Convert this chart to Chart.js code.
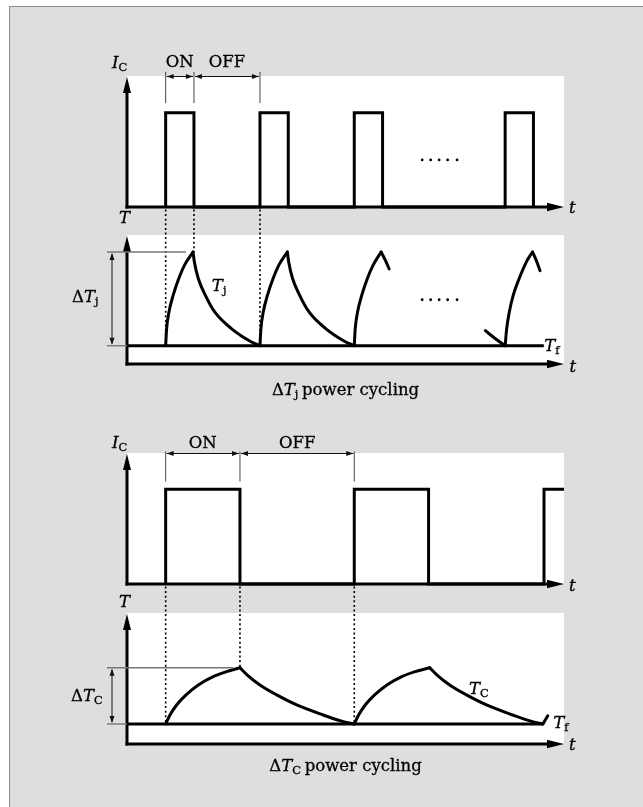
<!DOCTYPE html>
<html><head><meta charset="utf-8">
<script src="https://cdn.jsdelivr.net/npm/chart.js@4.4.1/dist/chart.umd.min.js"></script>
<style>
html,body{margin:0;padding:0;background:#fff;}
#wrap{position:relative;width:643px;height:807px;overflow:hidden;}
#bg{position:absolute;left:9px;top:6px;right:0;bottom:0;background:#dedede;border-top:1px solid #8a8a8a;border-left:1px solid #8a8a8a;}
canvas{position:absolute;left:0;top:0;}
</style></head><body>
<div id="wrap"><div id="bg"></div>
<canvas id="c1" width="643" height="807"></canvas>
<canvas id="c2" width="643" height="807"></canvas>
<canvas id="c3" width="643" height="807"></canvas>
<canvas id="c4" width="643" height="807"></canvas>
</div>
<script>
// ---------- DATA ----------
// Top half (ΔTj power cycling); time in pulse periods
const topPulseStart = [0, 1, 2, 3.6];
const topPulseEnd   = [0.3, 1.3, 2.3, 3.9];
const pulseLevel = 1;
const tfLevel = 40;
const tjPeak = 140;
const tjRise1  = [[0,40],[0.01,58],[0.035,76],[0.08,94],[0.14,112],[0.2,126],[0.29,140]];
const tjDecay1 = [[0.29,140],[0.305,129],[0.345,112],[0.42,94],[0.52,76],[0.7,58],[0.91,44],[1,40]];
const tjRise2  = [[1,40],[1.01,58],[1.035,76],[1.08,94],[1.14,112],[1.2,126],[1.29,140]];
const tjDecay2 = [[1.29,140],[1.305,129],[1.345,112],[1.42,94],[1.52,76],[1.7,58],[1.91,44],[2,40]];
const tjRise3  = [[2,40],[2.01,58],[2.035,76],[2.08,94],[2.14,112],[2.2,126],[2.285,140]];
const tjDecay3 = [[2.285,140],[2.33,131],[2.37,122]];
const tjTail4  = [[3.39,56],[3.49,48],[3.6,40]];
const tjRise4  = [[3.6,40],[3.616,58],[3.644,76],[3.686,94],[3.75,112],[3.828,130],[3.89,140]];
const tjDecay4 = [[3.89,140],[3.93,131],[3.97,120]];
const tfLineTop = [[-0.41,40],[4.01,40]];
const dotsX = [2.72, 2.81, 2.9, 2.99, 3.09];
const dotsI = [0.5, 0.5, 0.5, 0.5, 0.5];
const dotsTj = [89, 89, 89, 89, 89];

// Bottom half (ΔTC power cycling)
const botPulseStart = [0, 1, 2.006];
const botPulseEnd   = [0.394, 1.394, 2.3];
const tcPeak = 100;
const tcRise1  = [[0,40],[0.023,49.6],[0.058,60.3],[0.108,71],[0.173,81.6],[0.252,90.5],[0.323,95.8],[0.394,100]];
const tcDecay1 = [[0.394,100],[0.433,92.2],[0.5,81.6],[0.589,71],[0.695,60.3],[0.836,49.6],[0.942,42.5],[1,40]];
const tcRise2  = [[1,40],[1.023,49.6],[1.058,60.3],[1.108,71],[1.173,81.6],[1.252,90.5],[1.323,95.8],[1.4,100]];
const tcDecay2 = [[1.4,100],[1.439,92.2],[1.506,81.6],[1.595,71],[1.701,60.3],[1.84,49.6],[1.945,42.5],[2,40]];
const tcTick3  = [[2,40],[2.026,48.8]];
const tfLineBot = [[-0.205,40],[2,40]];

// ---------- HELPERS ----------
const SERIF = '"DejaVu Serif", "Liberation Serif", serif';
const MAIN = 16.5, SUB = 11.5;

function rich(ctx, parts, x, y, align) {
  const fonts = {r:`${MAIN}px ${SERIF}`, i:`italic ${MAIN}px ${SERIF}`, s:`${SUB}px ${SERIF}`};
  let w = 0;
  const ws = parts.map(([t,k]) => { ctx.font = fonts[k]; const m = ctx.measureText(t).width; w += m; return m; });
  let cx = align === 'center' ? x - w/2 : x;
  ctx.save();
  ctx.textAlign = 'left'; ctx.textBaseline = 'alphabetic'; ctx.fillStyle = '#000';
  ctx.strokeStyle = '#000'; ctx.lineWidth = 0.3; ctx.setLineDash([]);
  parts.forEach(([t,k],i) => {
    ctx.font = fonts[k];
    const yy = k === 's' ? y + 3 : y;
    ctx.fillText(t, cx, yy); ctx.strokeText(t, cx, yy);
    cx += ws[i];
  });
  ctx.restore();
}
function head(ctx, x, y, dx, dy, len, hw) {
  const bx = x - dx*len, by = y - dy*len;
  ctx.beginPath(); ctx.moveTo(x, y);
  ctx.lineTo(bx - dy*hw, by + dx*hw); ctx.lineTo(bx + dy*hw, by - dx*hw);
  ctx.closePath(); ctx.fill();
}
function drawAxes(chart) {
  const {ctx, chartArea:a} = chart;
  ctx.save(); ctx.strokeStyle = '#000'; ctx.fillStyle = '#000'; ctx.lineWidth = 3; ctx.setLineDash([]);
  ctx.beginPath(); ctx.moveTo(a.left, a.bottom + 1.5); ctx.lineTo(a.left, a.top + 12); ctx.stroke();
  head(ctx, a.left, a.top + 1, 0, -1, 16, 4);
  ctx.beginPath(); ctx.moveTo(a.left - 1.5, a.bottom); ctx.lineTo(a.right - 12, a.bottom); ctx.stroke();
  head(ctx, a.right, a.bottom, 1, 0, 17, 4.3);
  ctx.restore();
}
function dims(ctx, xs, yLine, yTop, yBot) {
  ctx.save(); ctx.strokeStyle = '#444'; ctx.fillStyle = '#111'; ctx.lineWidth = 1; ctx.setLineDash([]);
  xs.forEach(x => { ctx.beginPath(); ctx.moveTo(x, yTop); ctx.lineTo(x, yBot); ctx.stroke(); });
  ctx.strokeStyle = '#111';
  for (let i = 0; i < xs.length - 1; i++) {
    const l = xs[i] + 1, r = xs[i+1] - 1;
    ctx.beginPath(); ctx.moveTo(l, yLine); ctx.lineTo(r, yLine); ctx.stroke();
    head(ctx, l, yLine, -1, 0, 7, 2.5);
    head(ctx, r, yLine, 1, 0, 7, 2.5);
  }
  ctx.restore();
}
function dotted(ctx, x, y0, y1) {
  ctx.save(); ctx.strokeStyle = '#000'; ctx.lineWidth = 1.6; ctx.setLineDash([2, 2.6]);
  ctx.beginPath(); ctx.moveTo(x, y0); ctx.lineTo(x, y1); ctx.stroke(); ctx.restore();
}
function deltaMark(ctx, a, yPeak, yBase, xEnd) {
  ctx.save(); ctx.setLineDash([]);
  ctx.strokeStyle = '#777'; ctx.lineWidth = 1.4;
  ctx.beginPath(); ctx.moveTo(a.left - 20, yPeak); ctx.lineTo(xEnd, yPeak); ctx.stroke();
  ctx.beginPath(); ctx.moveTo(a.left - 20, yBase); ctx.lineTo(a.left, yBase); ctx.stroke();
  ctx.strokeStyle = '#111'; ctx.fillStyle = '#111'; ctx.lineWidth = 1;
  const x = a.left - 15;
  ctx.beginPath(); ctx.moveTo(x, yPeak + 2); ctx.lineTo(x, yBase - 2); ctx.stroke();
  head(ctx, x, yPeak + 1, 0, -1, 7, 2.5);
  head(ctx, x, yBase - 1, 0, 1, 7, 2.5);
  ctx.restore();
}
function toPts(arr) { return arr.map(p => ({x:p[0], y:p[1]})); }
function lineDS(points, extra) {
  return Object.assign({data: toPts(points), borderColor:'#000', borderWidth:3, pointRadius:0, fill:false,
    tension:0, borderJoinStyle:'miter', borderCapStyle:'butt', clip:false}, extra || {});
}
function curveDS(points) { return lineDS(points, {cubicInterpolationMode:'monotone', borderCapStyle:'round', borderJoinStyle:'round'}); }
function pulseDS(starts, ends, level, extra) {
  const pts = [];
  starts.forEach((s,i) => { pts.push([s,0],[s,level],[ends[i],level],[ends[i],0]); });
  return lineDS(pts, extra);
}
function dotsDS(xs, ys) {
  return {data: xs.map((x,i) => ({x, y: ys[i]})), showLine:false, pointRadius:1.4, pointBorderWidth:0,
    pointBackgroundColor:'#000', borderColor:'#000', clip:false};
}
function opts(pad, xr, yr) {
  return {responsive:false, animation:false, devicePixelRatio:1, events:[],
    layout:{padding:pad},
    plugins:{legend:{display:false}, tooltip:{enabled:false}},
    scales:{x:{type:'linear', min:xr[0], max:xr[1], display:false},
            y:{type:'linear', min:yr[0], max:yr[1], display:false}}};
}
function panelPlugin(under, over) {
  return {id:'panel',
    beforeDatasetsDraw(chart) {
      const {ctx, chartArea:a} = chart;
      ctx.save(); ctx.fillStyle = '#fff'; ctx.fillRect(a.left, a.top, a.right - a.left, a.bottom - a.top); ctx.restore();
      if (under) under(chart);
    },
    afterDatasetsDraw(chart) { over(chart); }};
}

// ---------- PANEL 1: IC pulses (top) ----------
const chart1 = new Chart(document.getElementById('c1'), {
  type:'line',
  data:{datasets:[pulseDS(topPulseStart, topPulseEnd, pulseLevel), dotsDS(dotsX, dotsI)]},
  options: opts({left:127, right:79, top:76, bottom:600}, [-0.41, 4.224], [0, 1.39]),
  plugins:[panelPlugin(null, chart => {
    const {ctx, chartArea:a, scales:{x}} = chart;
    drawAxes(chart);
    rich(ctx, [['I','i'],['C','s']], a.left - 15, a.top - 7.7);
    const x0 = x.getPixelForValue(topPulseStart[0]), x1 = x.getPixelForValue(topPulseEnd[0]), x2 = x.getPixelForValue(topPulseStart[1]);
    dims(ctx, [x0, x1, x2], a.top + 0.5, a.top - 4, a.top + 27);
    rich(ctx, [['ON','r']], (x0 + x1)/2, a.top - 9.5, 'center');
    rich(ctx, [['OFF','r']], (x1 + x2)/2, a.top - 9.5, 'center');
    rich(ctx, [['t','i']], a.right + 5, a.bottom + 6);
  })]
});

// ---------- PANEL 2: Tj ----------
const chart2 = new Chart(document.getElementById('c2'), {
  type:'line',
  data:{datasets:[lineDS(tfLineTop),
    curveDS(tjRise1), curveDS(tjDecay1), curveDS(tjRise2), curveDS(tjDecay2),
    curveDS(tjRise3), curveDS(tjDecay3), curveDS(tjTail4), curveDS(tjRise4), curveDS(tjDecay4),
    dotsDS(dotsX, dotsTj)]},
  options: opts({left:127, right:79, top:235, bottom:443}, [-0.41, 4.224], [20.47, 158.1]),
  plugins:[panelPlugin(chart => {
    const {ctx, scales:{x, y}} = chart;
    const yStart = chart1.chartArea.bottom + 2.5;
    dotted(ctx, x.getPixelForValue(topPulseStart[0]), yStart, y.getPixelForValue(tfLevel));
    dotted(ctx, x.getPixelForValue(topPulseEnd[0]), yStart, y.getPixelForValue(tjPeak));
    dotted(ctx, x.getPixelForValue(topPulseStart[1]), yStart, y.getPixelForValue(tfLevel));
  }, chart => {
    const {ctx, chartArea:a, scales:{x, y}} = chart;
    drawAxes(chart);
    const yP = y.getPixelForValue(tjPeak), yB = y.getPixelForValue(tfLevel);
    deltaMark(ctx, a, yP, yB, x.getPixelForValue(0.215));
    rich(ctx, [['T','i']], a.left - 8, a.top - 12);
    rich(ctx, [['Δ','r'],['T','i'],['j','s']], a.left - 55, (yP + yB)/2 + 2.7);
    rich(ctx, [['T','i'],['j','s']], x.getPixelForValue(0.49), y.getPixelForValue(98.7));
    rich(ctx, [['T','i'],['f','s']], x.getPixelForValue(tfLineTop[1][0]) + 0.5, yB + 5.8);
    rich(ctx, [['t','i']], a.right + 5.5, a.bottom + 7.5);
    rich(ctx, [['Δ','r'],['T','i'],['j ','s'],['power cycling','r']], (a.left + a.right)/2, a.bottom + 31, 'center');
  })]
});

// ---------- PANEL 3: IC pulses (bottom) ----------
const chart3 = new Chart(document.getElementById('c3'), {
  type:'line',
  data:{datasets:[pulseDS(botPulseStart, botPulseEnd, pulseLevel, {clip:{left:5, top:5, right:0, bottom:5}})]},
  options: opts({left:127, right:79, top:453, bottom:223}, [-0.205, 2.112], [0, 1.383]),
  plugins:[panelPlugin(null, chart => {
    const {ctx, chartArea:a, scales:{x}} = chart;
    drawAxes(chart);
    rich(ctx, [['I','i'],['C','s']], a.left - 15, a.top - 4.7);
    const x0 = x.getPixelForValue(botPulseStart[0]), x1 = x.getPixelForValue(botPulseEnd[0]), x2 = x.getPixelForValue(botPulseStart[1]);
    dims(ctx, [x0, x1, x2], a.top + 0.5, a.top - 1.5, a.top + 28.5);
    rich(ctx, [['ON','r']], (x0 + x1)/2, a.top - 4.7, 'center');
    rich(ctx, [['OFF','r']], (x1 + x2)/2, a.top - 4.7, 'center');
    rich(ctx, [['t','i']], a.right + 5, a.bottom + 6.5);
  })]
});

// ---------- PANEL 4: TC ----------
const chart4 = new Chart(document.getElementById('c4'), {
  type:'line',
  data:{datasets:[lineDS(tfLineBot),
    curveDS(tcRise1), curveDS(tcDecay1), curveDS(tcRise2), curveDS(tcDecay2), curveDS(tcTick3)]},
  options: opts({left:127, right:79, top:613, bottom:63}, [-0.205, 2.112], [18.7, 158.3]),
  plugins:[panelPlugin(chart => {
    const {ctx, scales:{x, y}} = chart;
    const yStart = chart3.chartArea.bottom + 2.5;
    dotted(ctx, x.getPixelForValue(botPulseStart[0]), yStart, y.getPixelForValue(tfLevel));
    dotted(ctx, x.getPixelForValue(botPulseEnd[0]), yStart, y.getPixelForValue(tcPeak));
    dotted(ctx, x.getPixelForValue(botPulseStart[1]), yStart, y.getPixelForValue(tfLevel));
  }, chart => {
    const {ctx, chartArea:a, scales:{x, y}} = chart;
    drawAxes(chart);
    const yP = y.getPixelForValue(tcPeak), yB = y.getPixelForValue(tfLevel);
    deltaMark(ctx, a, yP, yB, x.getPixelForValue(0.357));
    rich(ctx, [['T','i']], a.left - 8, a.top - 6.3);
    rich(ctx, [['Δ','r'],['T','i'],['C','s']], a.left - 56, (yP + yB)/2 + 4.8);
    rich(ctx, [['T','i'],['C','s']], x.getPixelForValue(1.608), y.getPixelForValue(71.7));
    rich(ctx, [['T','i'],['f','s']], x.getPixelForValue(tcTick3[1][0]) + 5.5, yB + 3.7);
    rich(ctx, [['t','i']], a.right + 5, a.bottom + 6);
    rich(ctx, [['Δ','r'],['T','i'],['C ','s'],['power cycling','r']], (a.left + a.right)/2, a.bottom + 26.7, 'center');
  })]
});
</script>
</body></html>
